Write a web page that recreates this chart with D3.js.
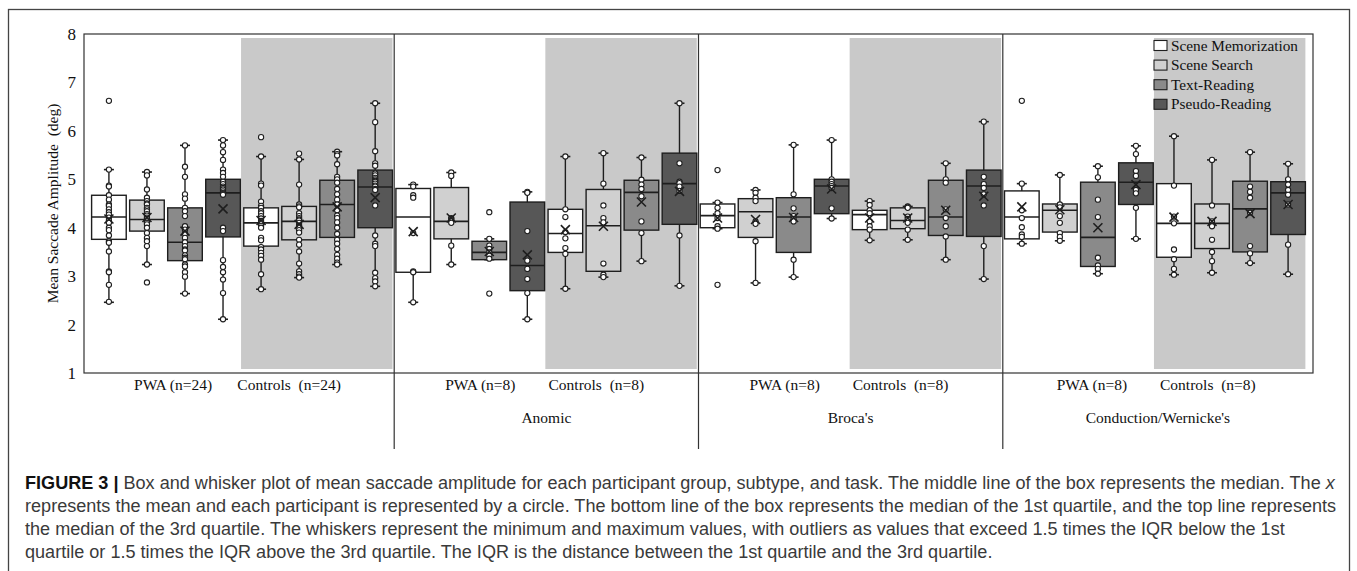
<!DOCTYPE html>
<html>
<head>
<meta charset="utf-8">
<script src="https://cdn.jsdelivr.net/npm/d3@7"></script>
<style>
  body { margin: 0; background: #fff; }
  svg { display: block; }
  .serif { font-family: "Liberation Serif", "Times New Roman", serif; fill: #111; }
  .cap { font-family: "Liberation Sans", Arial, sans-serif; fill: #3a3a3a; }
</style>
</head>
<body>
<script>
// categories
const subtypes = ["", "Anomic", "Broca's", "Conduction/Wernicke's"];
const groupLabels = [
  ["PWA (n=24)", "Controls\u00a0 (n=24)"],
  ["PWA (n=8)", "Controls\u00a0 (n=8)"],
  ["PWA (n=8)", "Controls\u00a0 (n=8)"],
  ["PWA (n=8)", "Controls\u00a0 (n=8)"]
];
const tasks = ["Scene Memorization", "Scene Search", "Text-Reading", "Pseudo-Reading"];
const yTicks = [1, 2, 3, 4, 5, 6, 7, 8];

// box stats, order: subtype -> group (PWA, Controls) -> task
const lo   = [2.46, 3.24, 2.64, 2.11, 2.73, 2.97, 3.24, 2.79,
              2.46, 3.24, 3.34, 2.11, 2.74, 2.98, 3.31, 2.80,
              3.98, 2.86, 2.98, 4.19, 3.74, 3.75, 3.34, 2.94,
              3.67, 3.73, 3.05, 3.77, 3.03, 3.07, 3.27, 3.04];
const q1   = [3.76, 3.93, 3.32, 3.81, 3.62, 3.75, 3.80, 4.00,
              3.08, 3.77, 3.34, 2.70, 3.49, 3.10, 3.95, 4.07,
              4.00, 3.80, 3.49, 4.29, 3.96, 3.98, 3.84, 3.82,
              3.77, 3.91, 3.20, 4.48, 3.39, 3.57, 3.50, 3.86];
const med  = [4.22, 4.17, 3.70, 4.72, 4.10, 4.13, 4.48, 4.84,
              4.22, 4.13, 3.49, 3.22, 3.88, 4.04, 4.73, 4.91,
              4.25, 4.33, 4.22, 4.86, 4.27, 4.15, 4.22, 4.86,
              4.22, 4.36, 3.80, 4.94, 4.09, 4.09, 4.39, 4.72];
const q3   = [4.67, 4.57, 4.41, 5.00, 4.41, 4.44, 4.98, 5.19,
              4.81, 4.83, 3.72, 4.53, 4.38, 4.79, 4.98, 5.54,
              4.49, 4.60, 4.62, 5.00, 4.36, 4.41, 4.98, 5.19,
              4.76, 4.49, 4.94, 5.34, 4.91, 4.49, 4.96, 4.95];
const hi   = [5.20, 5.15, 5.70, 5.81, 5.47, 5.41, 5.57, 6.57,
              4.89, 5.14, 3.77, 4.74, 5.47, 5.54, 5.45, 6.57,
              4.52, 4.78, 5.71, 5.81, 4.55, 4.44, 5.33, 6.19,
              4.91, 5.09, 5.27, 5.69, 5.89, 5.40, 5.56, 5.32];
const means = [4.18, 4.21, 3.93, 4.39, 4.15, 4.07, 4.43, 4.62,
               3.92, 4.20, 3.51, 3.44, 3.96, 4.03, 4.53, 4.75,
               4.20, 4.17, 4.21, 4.80, 4.20, 4.20, 4.36, 4.65,
               4.43, 4.37, 4.00, 4.89, 4.22, 4.13, 4.29, 4.48];

// participant values per box
const points = [
  [6.62, 5.20, 4.87, 4.85, 4.67, 4.58, 4.48, 4.45, 4.38, 4.32, 4.27, 4.21, 4.15, 4.10, 4.00, 3.95, 3.84, 3.72, 3.69, 3.51, 3.10, 3.08, 2.82, 2.47],
  [5.15, 5.08, 4.79, 4.62, 4.55, 4.50, 4.48, 4.41, 4.38, 4.34, 4.28, 4.25, 4.21, 4.18, 4.13, 4.10, 4.07, 4.00, 3.89, 3.79, 3.72, 3.62, 3.24, 2.87],
  [5.70, 5.26, 5.05, 4.69, 4.60, 4.41, 4.34, 4.24, 4.03, 3.96, 3.88, 3.79, 3.70, 3.62, 3.55, 3.53, 3.43, 3.38, 3.35, 3.24, 3.20, 3.08, 2.99, 2.64],
  [5.81, 5.70, 5.56, 5.40, 5.20, 5.13, 5.05, 4.95, 4.90, 4.85, 4.82, 4.79, 4.75, 4.72, 4.70, 4.68, 4.00, 3.93, 3.33, 3.19, 3.08, 2.93, 2.65, 2.11],
  [5.87, 5.47, 4.91, 4.87, 4.54, 4.45, 4.41, 4.34, 4.30, 4.24, 4.19, 4.14, 4.10, 4.04, 4.00, 3.79, 3.74, 3.60, 3.55, 3.48, 3.42, 3.34, 3.04, 2.73],
  [5.53, 5.41, 4.89, 4.48, 4.44, 4.42, 4.30, 4.24, 4.20, 4.17, 4.15, 4.10, 4.05, 4.02, 3.95, 3.90, 3.75, 3.65, 3.51, 3.26, 3.10, 3.04, 2.99, 2.97],
  [5.57, 5.52, 5.49, 5.31, 5.05, 5.00, 4.93, 4.80, 4.69, 4.58, 4.48, 4.36, 4.25, 4.20, 4.11, 4.00, 3.87, 3.75, 3.67, 3.56, 3.44, 3.36, 3.28, 3.24],
  [6.57, 6.18, 5.58, 5.33, 5.28, 5.12, 5.08, 5.03, 5.00, 4.97, 4.95, 4.91, 4.87, 4.85, 4.80, 4.78, 4.46, 3.84, 3.67, 3.62, 3.07, 2.96, 2.89, 2.79],
  [4.89, 4.85, 4.67, 4.62, 3.89, 3.10, 3.08, 2.46],
  [5.14, 5.07, 4.20, 4.18, 4.15, 4.10, 3.63, 3.24],
  [4.32, 3.77, 3.63, 3.56, 3.49, 3.42, 3.36, 2.64],
  [4.74, 4.72, 3.93, 3.32, 3.15, 2.94, 2.65, 2.11],
  [5.47, 4.38, 4.22, 3.91, 3.78, 3.58, 3.46, 2.74],
  [5.54, 4.91, 4.46, 4.20, 4.11, 3.26, 3.03, 2.98],
  [5.45, 4.99, 4.89, 4.80, 4.65, 4.13, 3.89, 3.31],
  [6.57, 5.33, 4.95, 4.92, 4.85, 4.76, 3.84, 2.80],
  [5.19, 4.52, 4.41, 4.30, 4.20, 4.03, 3.98, 2.82],
  [4.78, 4.72, 4.62, 4.55, 4.13, 4.08, 3.72, 2.86],
  [5.71, 4.69, 4.40, 4.24, 4.18, 4.13, 3.34, 2.98],
  [5.81, 5.00, 4.95, 4.90, 4.86, 4.82, 4.40, 4.19],
  [4.55, 4.47, 4.36, 4.30, 4.13, 4.03, 3.96, 3.74],
  [4.44, 4.43, 4.41, 4.23, 4.18, 4.10, 3.96, 3.75],
  [5.33, 5.00, 4.93, 4.38, 4.20, 4.03, 3.82, 3.34],
  [6.19, 5.05, 4.90, 4.82, 4.69, 4.46, 3.62, 2.94],
  [6.62, 4.91, 4.36, 4.20, 4.01, 3.86, 3.81, 3.67],
  [5.09, 4.48, 4.42, 4.24, 4.10, 3.89, 3.81, 3.73],
  [5.27, 5.04, 4.58, 4.22, 3.38, 3.22, 3.15, 3.05],
  [5.69, 5.52, 5.17, 5.07, 4.78, 4.71, 4.41, 3.77],
  [5.89, 4.87, 4.23, 4.09, 3.55, 3.35, 3.15, 3.03],
  [5.40, 4.46, 4.13, 4.03, 3.75, 3.50, 3.31, 3.07],
  [5.56, 4.85, 4.74, 4.62, 4.31, 3.62, 3.47, 3.27],
  [5.32, 5.00, 4.89, 4.78, 4.68, 4.48, 3.65, 3.04]
];

const captionLines = [
  "Box and whisker plot of mean saccade amplitude for each participant group, subtype, and task. The middle line of the box represents the median. The ",
  "represents the mean and each participant is represented by a circle. The bottom line of the box represents the median of the 1st quartile, and the top line represents",
  "the median of the 3rd quartile. The whiskers represent the minimum and maximum values, with outliers as values that exceed 1.5 times the IQR below the 1st",
  "quartile or 1.5 times the IQR above the 3rd quartile. The IQR is the distance between the 1st quartile and the 3rd quartile."
];

const taskFill = ["#ffffff", "#d0d0d0", "#8a8a8a", "#575757"];
const bandFill = "#c9c9c9";
const ink = "#1e1e1e";

var W = 1357, H = 571;
var plot = {left: 84, right: 1313, top: 34, bottom: 373};

var svg = d3.select("body").append("svg")
    .attr("width", W)
    .attr("height", H);

// outer figure frame
svg.append("rect")
    .attr("x", 8.5).attr("y", 9.5)
    .attr("width", 1341).attr("height", 640)
    .attr("fill", "none").attr("stroke", "#444").attr("stroke-width", 1.3);

var x = d3.scaleBand()
    .domain(d3.range(points.length))
    .range([plot.left, plot.right])
    .paddingInner(0.09)
    .paddingOuter(0.2);

var y = d3.scaleLinear()
    .domain([1, 8])
    .range([plot.bottom, plot.top]);

var bw = x.bandwidth(), gap = x.step() * x.paddingInner();
var cx = function(i) { return x(i) + bw / 2; };

// panel edges
var edges = [plot.left];
for (var p = 0; p < 3; p++) edges.push(x(p * 8 + 7) + bw + gap / 2);
edges.push(plot.right);

// shaded control halves
svg.append("g").selectAll("rect")
    .data(d3.range(4))
  .enter().append("rect")
    .attr("x", function(p) { return x(p * 8 + 4) - gap / 2 - 1; })
    .attr("y", y(8) + 4)
    .attr("width", function(p) { return x(p * 8 + 7) + bw - (x(p * 8 + 4) - gap / 2 - 1); })
    .attr("height", y(1) - y(8) - 8)
    .attr("fill", bandFill);

// y axis
var yAxis = svg.append("g")
    .attr("transform", "translate(" + plot.left + ",0)")
    .call(d3.axisLeft(y).tickValues(yTicks).tickFormat(d3.format("d")).tickSize(0).tickPadding(8));
yAxis.select(".domain").remove();
yAxis.selectAll("text")
    .attr("class", "serif")
    .style("font-size", "17px");

svg.append("text")
    .attr("class", "serif")
    .attr("transform", "translate(52," + ((plot.top + plot.bottom) / 2) + ") rotate(-90)")
    .attr("text-anchor", "middle")
    .attr("dominant-baseline", "central")
    .style("font-size", "15.5px")
    .text("Mean Saccade Amplitude\u00a0 (deg)");

// boxes
var box = svg.append("g").selectAll("g")
    .data(points.map(function(pts, i) {
      return {i: i, t: i % 4, pts: pts, lo: lo[i], q1: q1[i], med: med[i], q3: q3[i], hi: hi[i], mean: means[i]};
    }))
  .enter().append("g");

box.append("line")
    .attr("x1", function(d) { return cx(d.i); })
    .attr("x2", function(d) { return cx(d.i); })
    .attr("y1", function(d) { return y(d.hi); })
    .attr("y2", function(d) { return y(d.lo); })
    .attr("stroke", ink).attr("stroke-width", 1.4);

box.selectAll(".cap")
    .data(function(d) { return [d.lo, d.hi].map(function(v) { return {i: d.i, v: v}; }); })
  .enter().append("line")
    .attr("x1", function(d) { return cx(d.i) - 5; })
    .attr("x2", function(d) { return cx(d.i) + 5; })
    .attr("y1", function(d) { return y(d.v); })
    .attr("y2", function(d) { return y(d.v); })
    .attr("stroke", ink).attr("stroke-width", 1.6);

box.append("rect")
    .attr("x", function(d) { return x(d.i); })
    .attr("width", bw)
    .attr("y", function(d) { return y(d.q3); })
    .attr("height", function(d) { return y(d.q1) - y(d.q3); })
    .attr("fill", function(d) { return taskFill[d.t]; })
    .attr("stroke", ink).attr("stroke-width", 1.4);

box.append("line")
    .attr("x1", function(d) { return x(d.i); })
    .attr("x2", function(d) { return x(d.i) + bw; })
    .attr("y1", function(d) { return y(d.med); })
    .attr("y2", function(d) { return y(d.med); })
    .attr("stroke", ink).attr("stroke-width", 1.6);

box.selectAll("circle")
    .data(function(d) { return d.pts.map(function(v) { return {i: d.i, v: v}; }); })
  .enter().append("circle")
    .attr("cx", function(d) { return cx(d.i); })
    .attr("cy", function(d) { return y(d.v); })
    .attr("r", 2.6)
    .attr("fill", "#fff")
    .attr("stroke", ink).attr("stroke-width", 1.1);

box.append("path")
    .attr("d", function(d) {
      var a = cx(d.i), b = y(d.mean);
      return "M" + (a - 4.5) + "," + (b - 4.5) + "L" + (a + 4.5) + "," + (b + 4.5) +
             "M" + (a - 4.5) + "," + (b + 4.5) + "L" + (a + 4.5) + "," + (b - 4.5);
    })
    .attr("fill", "none")
    .attr("stroke", ink).attr("stroke-width", 1.6);

// plot frame and panel dividers
svg.append("rect")
    .attr("x", plot.left).attr("y", plot.top)
    .attr("width", plot.right - plot.left).attr("height", plot.bottom - plot.top)
    .attr("fill", "none").attr("stroke", "#333").attr("stroke-width", 1.2);

svg.append("g").selectAll("line")
    .data(edges.slice(1, 4))
  .enter().append("line")
    .attr("x1", function(d) { return d; }).attr("x2", function(d) { return d; })
    .attr("y1", plot.top).attr("y2", 449)
    .attr("stroke", "#333").attr("stroke-width", 1.2);

// group and subtype labels
var lab = svg.append("g").attr("class", "serif").style("font-size", "15.5px");
d3.range(4).forEach(function(p) {
  var mid = (edges[p] + edges[p + 1]) / 2;
  lab.append("text").attr("x", mid - 66).attr("y", 390)
      .attr("text-anchor", "middle").text(groupLabels[p][0]);
  lab.append("text").attr("x", mid + 50).attr("y", 390)
      .attr("text-anchor", "middle").text(groupLabels[p][1]);
  lab.append("text").attr("x", mid).attr("y", 423)
      .attr("text-anchor", "middle").text(subtypes[p]);
});

// legend
var leg = svg.append("g").selectAll("g")
    .data(tasks)
  .enter().append("g")
    .attr("transform", function(d, i) { return "translate(1154," + (45.5 + i * 19.6) + ")"; });
leg.append("rect")
    .attr("x", 0).attr("y", -5).attr("width", 13).attr("height", 10)
    .attr("fill", function(d, i) { return taskFill[i]; })
    .attr("stroke", ink).attr("stroke-width", 1.1);
leg.append("text")
    .attr("class", "serif")
    .attr("x", 17).attr("dy", "0.33em")
    .style("font-size", "15.3px")
    .text(function(d) { return d; });

// caption
var cap = svg.append("g").attr("class", "cap");
var probe = cap.append("text").style("font-size", "17px").text(captionLines[1]);
var fs = 17 * (1337 - 25) / probe.node().getComputedTextLength();
probe.remove();

captionLines.forEach(function(s, k) {
  var t = cap.append("text")
      .attr("x", 25).attr("y", 489 + k * 23)
      .style("font-size", fs + "px");
  if (k === 0) {
    t.append("tspan").style("font-weight", "bold").style("fill", "#111").text("FIGURE 3 | ");
    t.append("tspan").text(s);
    t.append("tspan").style("font-style", "italic").text("x");
  } else {
    t.text(s);
  }
});
</script>
</body>
</html>
